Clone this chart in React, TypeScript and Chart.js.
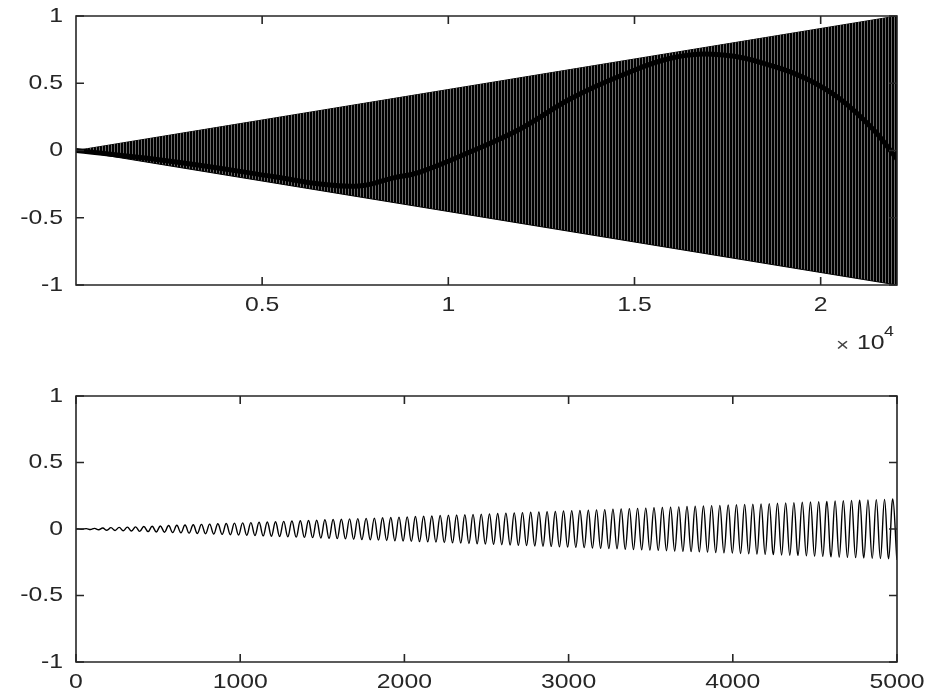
import React, { useEffect, useRef } from 'react';
import { Chart, registerables } from 'chart.js';

Chart.register(...registerables);

// ---------- data ----------
// Top panel: the dense tone fills a triangle-shaped envelope
const envelopeX = [1, 22050];
const envelopeUpper = [0, 1];
const envelopeLower = [0, -1];
// the dark (aliased) band visible inside the dense tone
const aliasX = [1, 2690, 5370, 6550, 7600, 8500, 9240, 10580, 11930, 13270, 14610, 16030, 17380, 18720, 19630, 20520, 21400, 22050];
const aliasY = [0, -0.085, -0.197, -0.249, -0.264, -0.205, -0.16, -0.011, 0.16, 0.383, 0.554, 0.69, 0.71, 0.628, 0.532, 0.383, 0.16, -0.063];

// Bottom panel: crests and troughs of the first 5000 samples
const bottomX = [
  0,
  13, 38, 63, 88, 113, 138, 163, 188, 213, 238, 263, 288, 313, 338, 363, 388, 413, 439, 464, 489,
  514, 539, 564, 589, 614, 639, 664, 689, 714, 739, 764, 789, 814, 839, 864, 890, 915, 940, 965, 990,
  1015, 1040, 1065, 1090, 1115, 1140, 1165, 1190, 1215, 1240, 1265, 1290, 1315, 1341, 1366, 1391, 1416, 1441, 1466, 1491,
  1516, 1541, 1566, 1591, 1616, 1641, 1666, 1691, 1716, 1741, 1767, 1792, 1817, 1842, 1867, 1892, 1917, 1942, 1967, 1992,
  2017, 2042, 2067, 2092, 2117, 2142, 2167, 2192, 2218, 2243, 2268, 2293, 2318, 2343, 2368, 2393, 2418, 2443, 2468, 2493,
  2518, 2543, 2568, 2593, 2618, 2644, 2669, 2694, 2719, 2744, 2769, 2794, 2819, 2844, 2869, 2894, 2919, 2944, 2969, 2994,
  3019, 3044, 3069, 3095, 3120, 3145, 3170, 3195, 3220, 3245, 3270, 3295, 3320, 3345, 3370, 3395, 3420, 3445, 3470, 3495,
  3520, 3546, 3571, 3596, 3621, 3646, 3671, 3696, 3721, 3746, 3771, 3796, 3821, 3846, 3871, 3896, 3921, 3946, 3972, 3997,
  4022, 4047, 4072, 4097, 4122, 4147, 4172, 4197, 4222, 4247, 4272, 4297, 4322, 4347, 4372, 4397, 4423, 4448, 4473, 4498,
  4523, 4548, 4573, 4598, 4623, 4648, 4673, 4698, 4723, 4748, 4773, 4798, 4823, 4849, 4874, 4899, 4924, 4949, 4974, 4999,
  5000,
];
const bottomY = [
  0,
  0.001, -0.002, 0.003, -0.004, 0.005, -0.006, 0.007, -0.009, 0.010, -0.011, 0.012, -0.013, 0.014, -0.015, 0.016, -0.018, 0.019, -0.020, 0.021, -0.022,
  0.023, -0.024, 0.026, -0.027, 0.028, -0.029, 0.030, -0.031, 0.032, -0.034, 0.035, -0.036, 0.037, -0.038, 0.039, -0.040, 0.041, -0.043, 0.044, -0.045,
  0.046, -0.047, 0.048, -0.049, 0.051, -0.052, 0.053, -0.054, 0.055, -0.056, 0.057, -0.059, 0.060, -0.061, 0.062, -0.063, 0.064, -0.065, 0.066, -0.068,
  0.069, -0.070, 0.071, -0.072, 0.073, -0.074, 0.076, -0.077, 0.078, -0.079, 0.080, -0.081, 0.082, -0.084, 0.085, -0.086, 0.087, -0.088, 0.089, -0.090,
  0.091, -0.093, 0.094, -0.095, 0.096, -0.097, 0.098, -0.099, 0.101, -0.102, 0.103, -0.104, 0.105, -0.106, 0.107, -0.109, 0.110, -0.111, 0.112, -0.113,
  0.114, -0.115, 0.116, -0.118, 0.119, -0.120, 0.121, -0.122, 0.123, -0.124, 0.126, -0.127, 0.128, -0.129, 0.130, -0.131, 0.132, -0.134, 0.135, -0.136,
  0.137, -0.138, 0.139, -0.140, 0.141, -0.143, 0.144, -0.145, 0.146, -0.147, 0.148, -0.149, 0.151, -0.152, 0.153, -0.154, 0.155, -0.156, 0.157, -0.159,
  0.160, -0.161, 0.162, -0.163, 0.164, -0.165, 0.166, -0.168, 0.169, -0.170, 0.171, -0.172, 0.173, -0.174, 0.176, -0.177, 0.178, -0.179, 0.180, -0.181,
  0.182, -0.184, 0.185, -0.186, 0.187, -0.188, 0.189, -0.190, 0.191, -0.193, 0.194, -0.195, 0.196, -0.197, 0.198, -0.199, 0.201, -0.202, 0.203, -0.204,
  0.205, -0.206, 0.207, -0.209, 0.210, -0.211, 0.212, -0.213, 0.214, -0.215, 0.216, -0.218, 0.219, -0.220, 0.221, -0.222, 0.223, -0.224, 0.226, -0.227,
  -0.226,
];

// Axis ticks
const yTickValues = [-1, -0.5, 0, 0.5, 1];
const yTickLabels = ['-1', '-0.5', '0', '0.5', '1'];
const topXTickValues = [5000, 10000, 15000, 20000];
const topXTickLabels = ['0.5', '1', '1.5', '2'];
const topXRange = [1, 22050];
const bottomXTickValues = [0, 1000, 2000, 3000, 4000, 5000];
const bottomXTickLabels = ['0', '1000', '2000', '3000', '4000', '5000'];
const bottomXRange = [0, 5000];

// ---------- styling ----------
const AXIS_COLOR = '#262626';
const FONT_FAMILY = '"Liberation Sans", Arial, Helvetica, sans-serif';
const FONT_SIZE = 21;
const H_STRETCH = 1.18;
const TICK_LEN = 8;

type AxesCfg = {
  xTicks: number[];
  xLabels: string[];
  exponent?: boolean;
};

function drawText(ctx: CanvasRenderingContext2D, text: string, x: number, y: number, align: 'left' | 'center' | 'right', size: number) {
  ctx.save();
  ctx.font = `${size}px ${FONT_FAMILY}`;
  ctx.textAlign = 'left';
  ctx.textBaseline = 'middle';
  const w = ctx.measureText(text).width * H_STRETCH;
  let left = x;
  if (align === 'center') left = x - w / 2;
  else if (align === 'right') left = x - w;
  ctx.translate(left, y);
  ctx.scale(H_STRETCH, 1);
  ctx.fillText(text, 0, 0);
  ctx.restore();
}

function axesPlugin(cfg: AxesCfg) {
  return {
    id: 'matlabAxes',
    afterDraw(chart: any) {
      const { ctx, chartArea: a, scales } = chart;
      const xs = scales.x;
      const ys = scales.y;
      ctx.save();
      ctx.strokeStyle = AXIS_COLOR;
      ctx.fillStyle = AXIS_COLOR;
      ctx.lineWidth = 1.6;
      ctx.beginPath();
      ctx.rect(a.left, a.top, a.right - a.left, a.bottom - a.top);
      ctx.stroke();
      ctx.beginPath();
      cfg.xTicks.forEach((v) => {
        const px = xs.getPixelForValue(v);
        ctx.moveTo(px, a.bottom);
        ctx.lineTo(px, a.bottom - TICK_LEN);
        ctx.moveTo(px, a.top);
        ctx.lineTo(px, a.top + TICK_LEN);
      });
      yTickValues.forEach((v) => {
        const py = ys.getPixelForValue(v);
        ctx.moveTo(a.left, py);
        ctx.lineTo(a.left + TICK_LEN, py);
        ctx.moveTo(a.right, py);
        ctx.lineTo(a.right - TICK_LEN, py);
      });
      ctx.stroke();
      cfg.xTicks.forEach((v, i) => {
        drawText(ctx, cfg.xLabels[i], xs.getPixelForValue(v), a.bottom + 20, 'center', FONT_SIZE);
      });
      yTickValues.forEach((v, i) => {
        drawText(ctx, yTickLabels[i], a.left - 13, ys.getPixelForValue(v), 'right', FONT_SIZE);
      });
      if (cfg.exponent) {
        ctx.fillStyle = '#444';
        drawText(ctx, '\u00D7', a.right - 61, a.bottom + 61, 'left', 19);
        ctx.fillStyle = AXIS_COLOR;
        drawText(ctx, '10', a.right - 40, a.bottom + 58, 'left', FONT_SIZE);
        drawText(ctx, '4', a.right - 13, a.bottom + 47, 'left', 15);
      }
      ctx.restore();
    },
  };
}

function stripePattern(ctx: CanvasRenderingContext2D) {
  const c = document.createElement('canvas');
  c.width = 3;
  c.height = 1;
  const g = c.getContext('2d')!;
  g.fillStyle = '#000';
  g.fillRect(0, 0, 3, 1);
  g.fillStyle = '#6a6a6a';
  g.fillRect(0, 0, 1, 1);
  return ctx.createPattern(c, 'repeat') as CanvasPattern;
}

function baseOptions(xRange: number[], padding: any) {
  return {
    responsive: false,
    animation: false as const,
    events: [] as any[],
    layout: { padding },
    plugins: { legend: { display: false }, tooltip: { enabled: false } },
    elements: { point: { radius: 0 } },
    scales: {
      x: { type: 'linear' as const, min: xRange[0], max: xRange[1], display: false },
      y: { type: 'linear' as const, min: -1, max: 1, display: false },
    },
  };
}

export default function App() {
  const topRef = useRef<HTMLCanvasElement>(null);
  const botRef = useRef<HTMLCanvasElement>(null);

  useEffect(() => {
    const topCanvas = topRef.current!;
    const botCanvas = botRef.current!;
    const pattern = stripePattern(topCanvas.getContext('2d')!);

    const topChart = new Chart(topCanvas, {
      type: 'line',
      data: {
        datasets: [
          {
            data: envelopeX.map((x, i) => ({ x, y: envelopeUpper[i] })),
            borderColor: '#000',
            borderWidth: 1,
            fill: false,
            pointRadius: 0,
            order: 2,
          },
          {
            data: envelopeX.map((x, i) => ({ x, y: envelopeLower[i] })),
            borderColor: '#000',
            borderWidth: 1,
            backgroundColor: pattern,
            fill: '-1',
            pointRadius: 0,
            order: 1,
          },
          {
            data: aliasX.map((x, i) => ({ x, y: aliasY[i] })),
            borderColor: '#000',
            borderWidth: 5,
            tension: 0.4,
            fill: false,
            pointRadius: 0,
            order: 0,
          },
        ],
      },
      options: baseOptions(topXRange, { left: 76, right: 40, top: 16, bottom: 85 }) as any,
      plugins: [axesPlugin({ xTicks: topXTickValues, xLabels: topXTickLabels, exponent: true })],
    });

    const botChart = new Chart(botCanvas, {
      type: 'line',
      data: {
        datasets: [
          {
            data: bottomX.map((x, i) => ({ x, y: bottomY[i] })),
            borderColor: '#000',
            borderWidth: 1.4,
            tension: 0.4,
            fill: false,
            pointRadius: 0,
          },
        ],
      },
      options: baseOptions(bottomXRange, { left: 76, right: 40, top: 26, bottom: 30 }) as any,
      plugins: [axesPlugin({ xTicks: bottomXTickValues, xLabels: bottomXTickLabels })],
    });

    return () => {
      topChart.destroy();
      botChart.destroy();
    };
  }, []);

  return (
    <div style={{ position: 'fixed', left: 0, top: 0, width: 937, height: 692, background: '#fff', overflow: 'hidden' }}>
      <canvas ref={topRef} width={937} height={370} style={{ position: 'absolute', left: 0, top: 0, width: 937, height: 370 }} />
      <canvas ref={botRef} width={937} height={322} style={{ position: 'absolute', left: 0, top: 370, width: 937, height: 322 }} />
    </div>
  );
}
